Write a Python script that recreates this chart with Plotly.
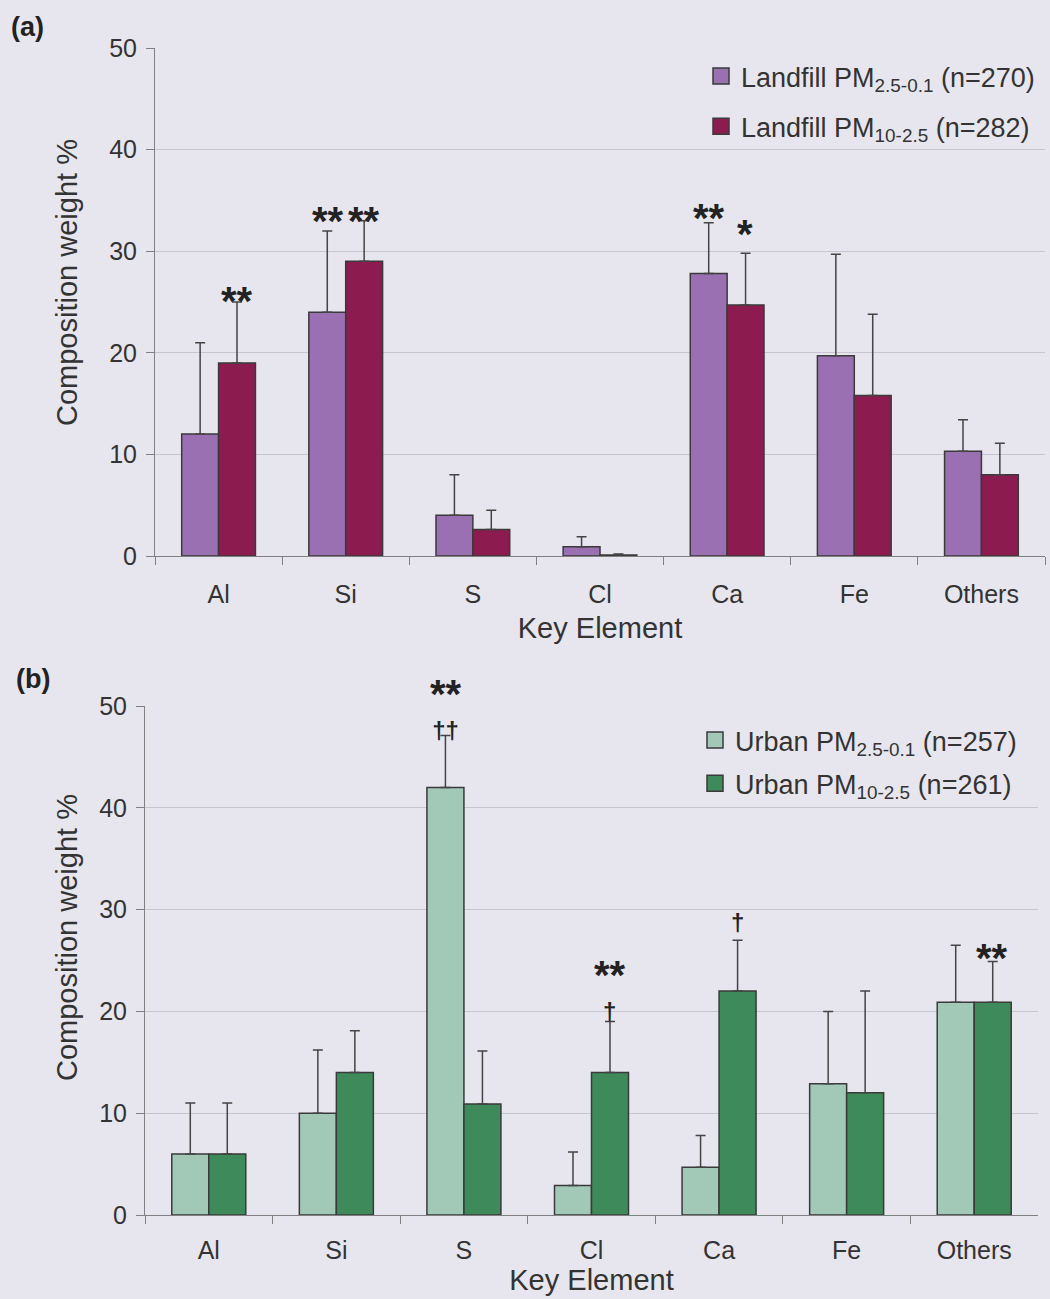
import plotly.graph_objects as go

# Elements on the x axis (shared by both panels)
elements = ["Al", "Si", "S", "Cl", "Ca", "Fe", "Others"]

# (a) Landfill composition weight % (mean) and upper error-bar end
landfill_fine = [12.0, 24.0, 4.0, 0.9, 27.8, 19.7, 10.3]
landfill_fine_top = [21.0, 32.0, 8.0, 1.9, 32.8, 29.7, 13.4]
landfill_coarse = [19.0, 29.0, 2.6, 0.1, 24.7, 15.8, 8.0]
landfill_coarse_top = [25.0, 33.0, 4.5, 0.2, 29.8, 23.8, 11.1]

# (b) Urban composition weight % (mean) and upper error-bar end
urban_fine = [6.0, 10.0, 42.0, 2.9, 4.7, 12.9, 20.9]
urban_fine_top = [11.0, 16.2, 47.1, 6.2, 7.8, 20.0, 26.5]
urban_coarse = [6.0, 14.0, 10.9, 14.0, 22.0, 12.0, 20.9]
urban_coarse_top = [11.0, 18.1, 16.1, 19.0, 27.0, 22.0, 24.9]

# Significance markers: panel, element, series (0 = PM2.5-0.1, 1 = PM10-2.5),
# asterisks, daggers, and the height (in composition %) of the symbol group
marker_panel = ["a", "a", "a", "a", "a", "b", "b", "b", "b"]
marker_element = ["Al", "Si", "Si", "Ca", "Ca", "S", "Cl", "Ca", "Others"]
marker_series = [1, 0, 1, 0, 1, 0, 1, 1, 1]
marker_stars = ["**", "**", "**", "**", "*", "**", "**", "", "**"]
marker_daggers = ["", "", "", "", "", "††", "†", "†", ""]
marker_level = [25.7, 33.6, 33.6, 33.9, 32.3, 50.0, 22.4, 28.8, 25.8]

Y_MAX = 50
W, H = 1050, 1299
BG = "#e7e6ef"
FONT = "Liberation Sans, Arial, sans-serif"
EDGE = "#3a3a3a"
TXT = "#333333"

COLORS = {
    "landfill_fine": "#9b70b2",
    "landfill_coarse": "#8c1c50",
    "urban_fine": "#a2c8b8",
    "urban_coarse": "#3f8a5b",
}


def px_x(p):
    return p / W


def px_y(p):
    return 1 - p / H


def upper_err(vals, tops):
    return [t - v for v, t in zip(vals, tops)]


def bar(vals, tops, color, xa, ya):
    return go.Bar(
        x=elements, y=vals, xaxis=xa, yaxis=ya, showlegend=False,
        marker=dict(color=color, line=dict(color=EDGE, width=1.5)),
        error_y=dict(type="data", symmetric=False, array=upper_err(vals, tops),
                     arrayminus=[0] * len(vals), color="#444444",
                     thickness=1.5, width=5),
    )


def legend_key(name, color, legend, group):
    # square swatch shown in the legend for a bar series
    return go.Scatter(
        x=[None], y=[None], mode="markers", name=name, legend=legend,
        legendgroup=group, showlegend=True,
        marker=dict(symbol="square", size=18, color=color,
                    line=dict(color=EDGE, width=1.5)),
    )


fig = go.Figure()
fig.add_trace(bar(landfill_fine, landfill_fine_top, COLORS["landfill_fine"], "x", "y"))
fig.add_trace(bar(landfill_coarse, landfill_coarse_top, COLORS["landfill_coarse"], "x", "y"))
fig.add_trace(bar(urban_fine, urban_fine_top, COLORS["urban_fine"], "x2", "y2"))
fig.add_trace(bar(urban_coarse, urban_coarse_top, COLORS["urban_coarse"], "x2", "y2"))

fig.add_trace(legend_key("Landfill PM<sub>2.5-0.1</sub> (n=270)",
                         COLORS["landfill_fine"], "legend", "lf"))
fig.add_trace(legend_key("Landfill PM<sub>10-2.5</sub> (n=282)",
                         COLORS["landfill_coarse"], "legend", "lc"))
fig.add_trace(legend_key("Urban PM<sub>2.5-0.1</sub> (n=257)",
                         COLORS["urban_fine"], "legend2", "uf"))
fig.add_trace(legend_key("Urban PM<sub>10-2.5</sub> (n=261)",
                         COLORS["urban_coarse"], "legend2", "uc"))

STAR = '<span style="font-size:40px">{}</span>'

annotations = []
for panel, el, s, stars, daggers, lvl in zip(marker_panel, marker_element,
                                             marker_series, marker_stars,
                                             marker_daggers, marker_level):
    parts = []
    if stars:
        parts.append(STAR.format(stars))
    if daggers:
        parts.append(daggers)
    if stars and daggers:
        shift = -2
    elif stars:
        shift = -6
    else:
        shift = -1
    annotations.append(dict(
        x=el, y=lvl / Y_MAX, xref="x" if panel == "a" else "x2",
        yref="y domain" if panel == "a" else "y2 domain",
        text="<b>" + "<br>".join(parts) + "</b>",
        showarrow=False, xshift=-18 if s == 0 else 18, yanchor="middle",
        yshift=shift, align="center",
        font=dict(family=FONT, size=24, color="#222222"),
    ))

# panel letters and rotated y-axis titles
annotations += [
    dict(x=px_x(9), y=px_y(27), xref="paper", yref="paper", text="<b>(a)</b>",
         showarrow=False, xanchor="left", yanchor="middle",
         font=dict(family=FONT, size=27, color="#222222")),
    dict(x=px_x(14), y=px_y(679), xref="paper", yref="paper", text="<b>(b)</b>",
         showarrow=False, xanchor="left", yanchor="middle",
         font=dict(family=FONT, size=27, color="#222222")),
    dict(x=px_x(67), y=px_y(283), xref="paper", yref="paper",
         text="Composition weight %", textangle=-90, showarrow=False,
         xanchor="center", yanchor="middle",
         font=dict(family=FONT, size=29, color=TXT)),
    dict(x=px_x(67), y=px_y(938), xref="paper", yref="paper",
         text="Composition weight %", textangle=-90, showarrow=False,
         xanchor="center", yanchor="middle",
         font=dict(family=FONT, size=29, color=TXT)),
]

yaxis_common = dict(
    range=[0, Y_MAX], dtick=10, showgrid=True, gridcolor="#c6c6ce", gridwidth=1,
    showline=True, linecolor="#808080", linewidth=1, ticks="outside",
    ticklen=8, tickcolor="#808080", zeroline=False, ticklabelstandoff=4,
    automargin=False,
    tickfont=dict(family=FONT, size=25, color=TXT),
)
xaxis_common = dict(
    type="category", showline=True, linecolor="#808080", linewidth=1,
    ticks="outside", tickson="boundaries", ticklen=8, tickcolor="#808080",
    showgrid=False, automargin=False,
    tickfont=dict(family=FONT, size=25, color=TXT),
)
xtitle_font = dict(family=FONT, size=29, color=TXT)

legend_common = dict(
    bgcolor="rgba(0,0,0,0)", xanchor="left", yanchor="top",
    font=dict(family=FONT, size=27, color=TXT),
    itemclick=False, itemdoubleclick=False,
)

fig.update_layout(
    width=W, height=H, margin=dict(l=0, r=0, t=0, b=0, autoexpand=False),
    paper_bgcolor=BG, plot_bgcolor=BG, barmode="group",
    bargap=0.42, bargroupgap=0,
    xaxis=dict(xaxis_common, domain=[px_x(155), px_x(1045)], anchor="y",
               ticklabelstandoff=16,
               title=dict(text="Key Element", standoff=10, font=xtitle_font)),
    yaxis=dict(yaxis_common, domain=[px_y(556), px_y(48)], anchor="x"),
    xaxis2=dict(xaxis_common, domain=[px_x(145), px_x(1038)], anchor="y2",
                ticklabelstandoff=13,
                title=dict(text="Key Element", standoff=6, font=xtitle_font)),
    yaxis2=dict(yaxis_common, domain=[px_y(1215), px_y(706)], anchor="x2"),
    legend=dict(legend_common, x=px_x(701), y=px_y(52), tracegroupgap=12),
    legend2=dict(legend_common, x=px_x(695), y=px_y(716), tracegroupgap=5),
    annotations=annotations,
)

fig.write_html("out.html")
